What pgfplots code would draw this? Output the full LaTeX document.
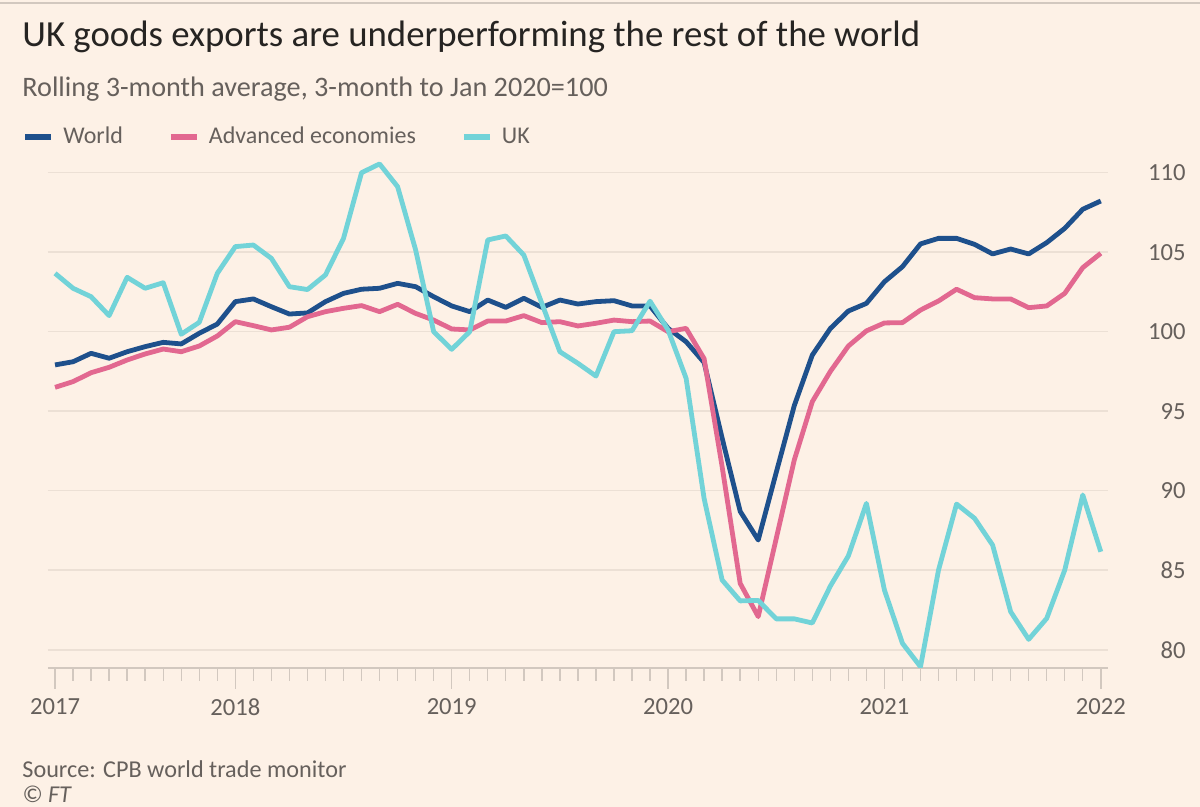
\documentclass[border=0pt]{standalone}
\usepackage{pgfplots}
\pgfplotsset{compat=1.18}
\usepackage{fontspec}
\setmainfont{Carlito}
\definecolor{bg}{RGB}{253,241,230}
\definecolor{worldc}{RGB}{30,80,140}
\definecolor{advc}{RGB}{226,104,144}
\definecolor{ukc}{RGB}{114,211,216}
\definecolor{gridc}{RGB}{236,224,213}
\definecolor{tickc}{RGB}{210,200,191}
\definecolor{txtgrey}{RGB}{102,96,92}
\definecolor{titlec}{RGB}{38,36,34}

\pgfplotstableread{
i world adv uk
0 97.91 96.50 103.67
1 98.11 96.86 102.73
2 98.64 97.42 102.20
3 98.33 97.76 101.01
4 98.74 98.22 103.42
5 99.06 98.60 102.73
6 99.33 98.91 103.08
7 99.23 98.74 99.84
8 99.90 99.10 100.59
9 100.48 99.73 103.67
10 101.89 100.63 105.35
11 102.06 100.38 105.45
12 101.57 100.11 104.61
13 101.11 100.28 102.83
14 101.18 100.94 102.65
15 101.89 101.26 103.57
16 102.41 101.47 105.87
17 102.67 101.64 110.00
18 102.73 101.26 110.55
19 103.04 101.72 109.12
20 102.83 101.15 105.14
21 102.20 100.73 100.00
22 101.62 100.17 98.89
23 101.26 100.11 100.00
24 101.99 100.67 105.77
25 101.53 100.67 106.02
26 102.10 101.01 104.82
27 101.53 100.57 101.78
28 101.99 100.63 98.74
29 101.74 100.36 98.01
30 101.89 100.53 97.21
31 101.95 100.73 100.00
32 101.62 100.63 100.06
33 101.62 100.67 101.92
34 100.21 100.00 100.11
35 99.37 100.21 97.07
36 98.06 98.30 89.50
37 93.30 91.50 84.38
38 88.70 84.17 83.07
39 86.90 82.08 83.10
40 91.15 87.00 81.94
41 95.35 91.93 81.94
42 98.53 95.60 81.68
43 100.20 97.50 84.00
44 101.30 99.10 85.90
45 101.78 100.05 89.20
46 103.14 100.55 83.75
47 104.09 100.57 80.40
48 105.52 101.36 78.93
49 105.87 101.93 85.01
50 105.87 102.67 89.16
51 105.49 102.14 88.26
52 104.89 102.06 86.58
53 105.20 102.06 82.39
54 104.89 101.51 80.65
55 105.60 101.62 81.97
56 106.50 102.41 85.01
57 107.70 104.03 89.73
58 108.22 104.93 86.16
}\datatable

\begin{document}
\begin{tikzpicture}
\useasboundingbox (0,0) rectangle (600pt,403.5pt);
\fill[bg] (0,0) rectangle (600pt,403.5pt);
\draw[tickc, line width=1pt] (0,401.8pt) -- (600pt,401.8pt);
\node[anchor=base west, inner sep=0, text=titlec, font=\fontsize{18.4}{21}\selectfont] at (11pt,380pt) {UK goods exports are underperforming the rest of the world};
\node[anchor=base west, inner sep=0, text=txtgrey, font=\fontsize{14.1}{16}\selectfont] at (11pt,355pt) {Rolling 3-month average, 3-month to Jan 2020=100};
\begin{axis}[
  at={(24pt,69.5pt)}, anchor=south west,
  scale only axis, width=530pt, height=255.6pt,
  xmin=-0.39, xmax=58.4, ymin=78.85, ymax=111,
  axis x line*=bottom, axis y line*=right,
  x axis line style={-, draw=tickc, line width=0.8pt},
  y axis line style={draw=none},
  ytick={80,85,...,110},
  ymajorgrids, grid style={gridc, line width=0.8pt},
  ytick style={draw=none},
  yticklabel style={anchor=east, inner sep=0pt, xshift=28.5pt},
  xtick={0,10,22,34,46,58},
  xticklabels={2017,2018,2019,2020,2021,2022},
  minor xtick={1,...,57},
  tick align=outside,
  major tick length=10.5pt, minor tick length=6.5pt,
  xtick style={draw=tickc, line width=0.7pt},
  xticklabel style={anchor=north, inner sep=0pt, yshift=-4.5pt},
  ticklabel style={font=\fontsize{12.3}{14}\selectfont, text=txtgrey},
  /pgf/number format/assume math mode=true,
  legend style={at={(axis description cs:-0.0245,1.0387)}, anchor=west, draw=none, fill=none,
    font=\fontsize{12}{14}\selectfont, text=txtgrey, inner sep=0pt,
    nodes={inner sep=0pt},
    /tikz/every odd column/.append style={column sep=4.5pt},
    /tikz/every even column/.append style={column sep=22.5pt}},
  legend columns=3,
  legend image code/.code={\draw[#1, line width=3pt, line cap=butt] (0pt,0pt) -- (13pt,0pt);},
  every axis plot/.append style={line width=2.4pt, line join=round},
]
\addplot[worldc] table[x=i, y=world] {\datatable};
\addlegendentry{World}
\addplot[advc] table[x=i, y=adv] {\datatable};
\addlegendentry{Advanced economies}
\addplot[ukc] table[x=i, y=uk] {\datatable};
\addlegendentry{UK}
\end{axis}
\node[anchor=base west, inner sep=0, text=txtgrey, font=\fontsize{12.1}{14}\selectfont] at (11pt,14.5pt) {Source: CPB world trade monitor};
\node[anchor=base west, inner sep=0, text=txtgrey, font=\fontsize{12.1}{14}\itshape] at (11pt,2pt) {© FT};
\end{tikzpicture}
\end{document}
